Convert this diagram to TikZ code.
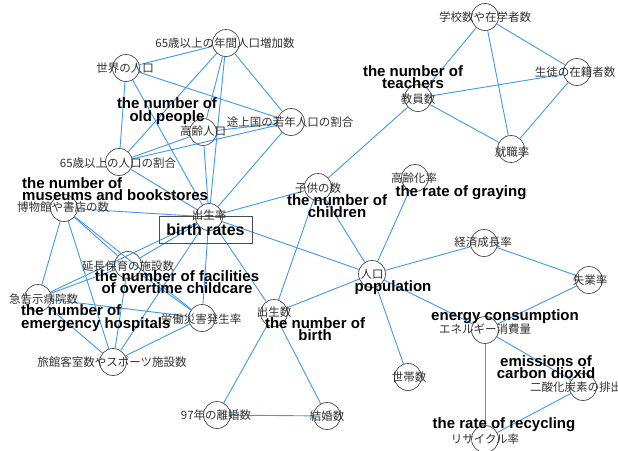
\documentclass[tikz,border=0pt]{standalone}
\usepackage{fontspec}
\setmainfont{Liberation Sans}
\newfontfamily\jp{Noto Sans CJK JP}
\definecolor{edgec}{RGB}{62,152,242}
\definecolor{jpc}{RGB}{50,50,50}
\definecolor{circc}{RGB}{75,75,75}
\begin{document}
\begin{tikzpicture}[x=1pt,y=-1pt,
 cn/.style={circle,draw=circc,line width=0.7pt,fill=white,minimum size=27pt,inner sep=0pt},
 jl/.style={font=\jp\fontsize{11.5}{12}\selectfont,text=jpc,inner sep=0pt},
 en/.style={font=\bfseries\fontsize{15}{12.5}\selectfont,align=center,inner sep=0pt},
 enl/.style={en,align=left,anchor=west},
 edge/.style={draw=edgec,line width=0.9pt}]
\useasboundingbox (0,0) rectangle (618,450);
\clip (0,0) rectangle (618,450);
% circles
\node[cn] (A) at (226,43) {};
\node[cn] (B) at (126,68) {};
\node[cn] (C) at (203,132) {};
\node[cn] (D) at (291,122) {};
\node[cn] (E) at (119,162) {};
\node[cn] (F) at (64,208) {};
\node[cn] (G) at (209,217) {};
\node[cn] (H) at (318,187) {};
\node[cn] (I) at (415,178) {};
\node[cn] (J) at (372,274) {};
\node[cn] (K) at (484,243) {};
\node[cn] (L) at (589,280) {};
\node[cn] (M) at (485,330) {};
\node[cn] (N) at (583,387) {};
\node[cn] (O) at (485,439) {};
\node[cn] (P) at (408,377) {};
\node[cn] (Q) at (327,416) {};
\node[cn] (R) at (217,415) {};
\node[cn] (S) at (274,313) {};
\node[cn] (T) at (202,318) {};
\node[cn] (U) at (128,265) {};
\node[cn] (V) at (38,298) {};
\node[cn] (W) at (113,362) {};
\node[cn] (X) at (485,17) {};
\node[cn] (Y) at (577,72) {};
\node[cn] (Z) at (418,98) {};
\node[cn] (AA) at (511,149) {};
% edges
\foreach \a/\b in {A/B,A/E,A/C,A/G,A/D,B/D,B/E,B/G,C/G,C/E,C/D,D/G,D/E,E/G,
  F/G,F/V,F/W,F/U,F/T,G/H,G/J,G/S,G/T,G/U,G/V,G/W,U/V,U/W,U/T,V/T,V/W,W/T,
  H/J,H/S,H/Z,I/J,J/K,J/S,J/P,J/M,K/L,L/M,M/N,M/O,N/O,S/R,S/Q,R/Q,
  X/Z,X/AA,X/Y,Z/Y,Z/AA,Y/AA}
  \draw[edge] (\a) -- (\b);
% box
\node[draw=circc,line width=0.7pt,minimum width=93pt,minimum height=27pt,inner sep=0pt,
  font=\bfseries\fontsize{16}{16}\selectfont] (box) at (205.5,229.5) {\raisebox{-2pt}{birth rates}};
% japanese labels
\node[jl] (lA) at (225,43) {65歳以上の年間人口増加数};
\node[jl] (lB) at (125,68) {世界の人口};
\node[jl] (lC) at (203,131) {高齢人口};
\node[jl] (lD) at (290,122) {途上国の若年人口の割合};
\node[jl] (lE) at (118,163) {65歳以上の人口の割合};
\node[jl] (lF) at (63,207) {博物館や書店の数};
\node[jl] (lG) at (209,215) {出生率};
\node[jl] (lH) at (318,188) {子供の数};
\node[jl] (lI) at (414,178) {高齢化率};
\node[jl] (lJ) at (372,274) {人口};
\node[jl] (lK) at (483,242) {経済成長率};
\node[jl] (lL) at (590,280) {失業率};
\node[jl] (lM) at (485,329) {エネルギー消費量};
\node[jl,anchor=west] (lN) at (530,387) {二酸化炭素の排出};
\node[jl] (lO) at (485,439) {リサイクル率};
\node[jl] (lP) at (409,377) {世帯数};
\node[jl] (lQ) at (327,416) {結婚数};
\node[jl] (lR) at (216,415) {97年の離婚数};
\node[jl] (lS) at (274,312) {出生数};
\node[jl] (lT) at (201,319) {労働災害発生率};
\node[jl] (lU) at (128,266) {延長保育の施設数};
\node[jl,anchor=west] (lV) at (9,299) {急告示病院数};
\node[jl] (lW) at (112,362) {旅館客室数やスポーツ施設数};
\node[jl] (lX) at (485,17) {学校数や在学者数};
\node[jl] (lY) at (575,72) {生徒の在籍者数};
\node[jl] (lZ) at (418,99) {教員数};
\node[jl] (lAA) at (512,152) {就職率};
% english labels
\node[en] (eold) at (167,111) {the number of\\old people};
\node[enl] (emus) at (22,189) {the number of\\museums and bookstores};
\node[en] (echi) at (337,206) {the number of\\children};
\node[en] (egray) at (461,193) {the rate of graying};
\node[en] (epop) at (393,288) {population};
\node[en] (eene) at (505,317) {energy consumption};
\node[en] (ecar) at (546,367) {emissions of\\carbon dioxid};
\node[en] (erec) at (504,425) {the rate of recycling};
\node[en] (ebir) at (315,329) {the number of\\birth};
\node[en] (efac) at (177,282) {the number of facilities\\of overtime childcare};
\node[enl] (eeme) at (21,318) {the number of\\emergency hospitals};
\node[en] (etea) at (413,77) {the number of\\teachers};
\end{tikzpicture}
\end{document}
